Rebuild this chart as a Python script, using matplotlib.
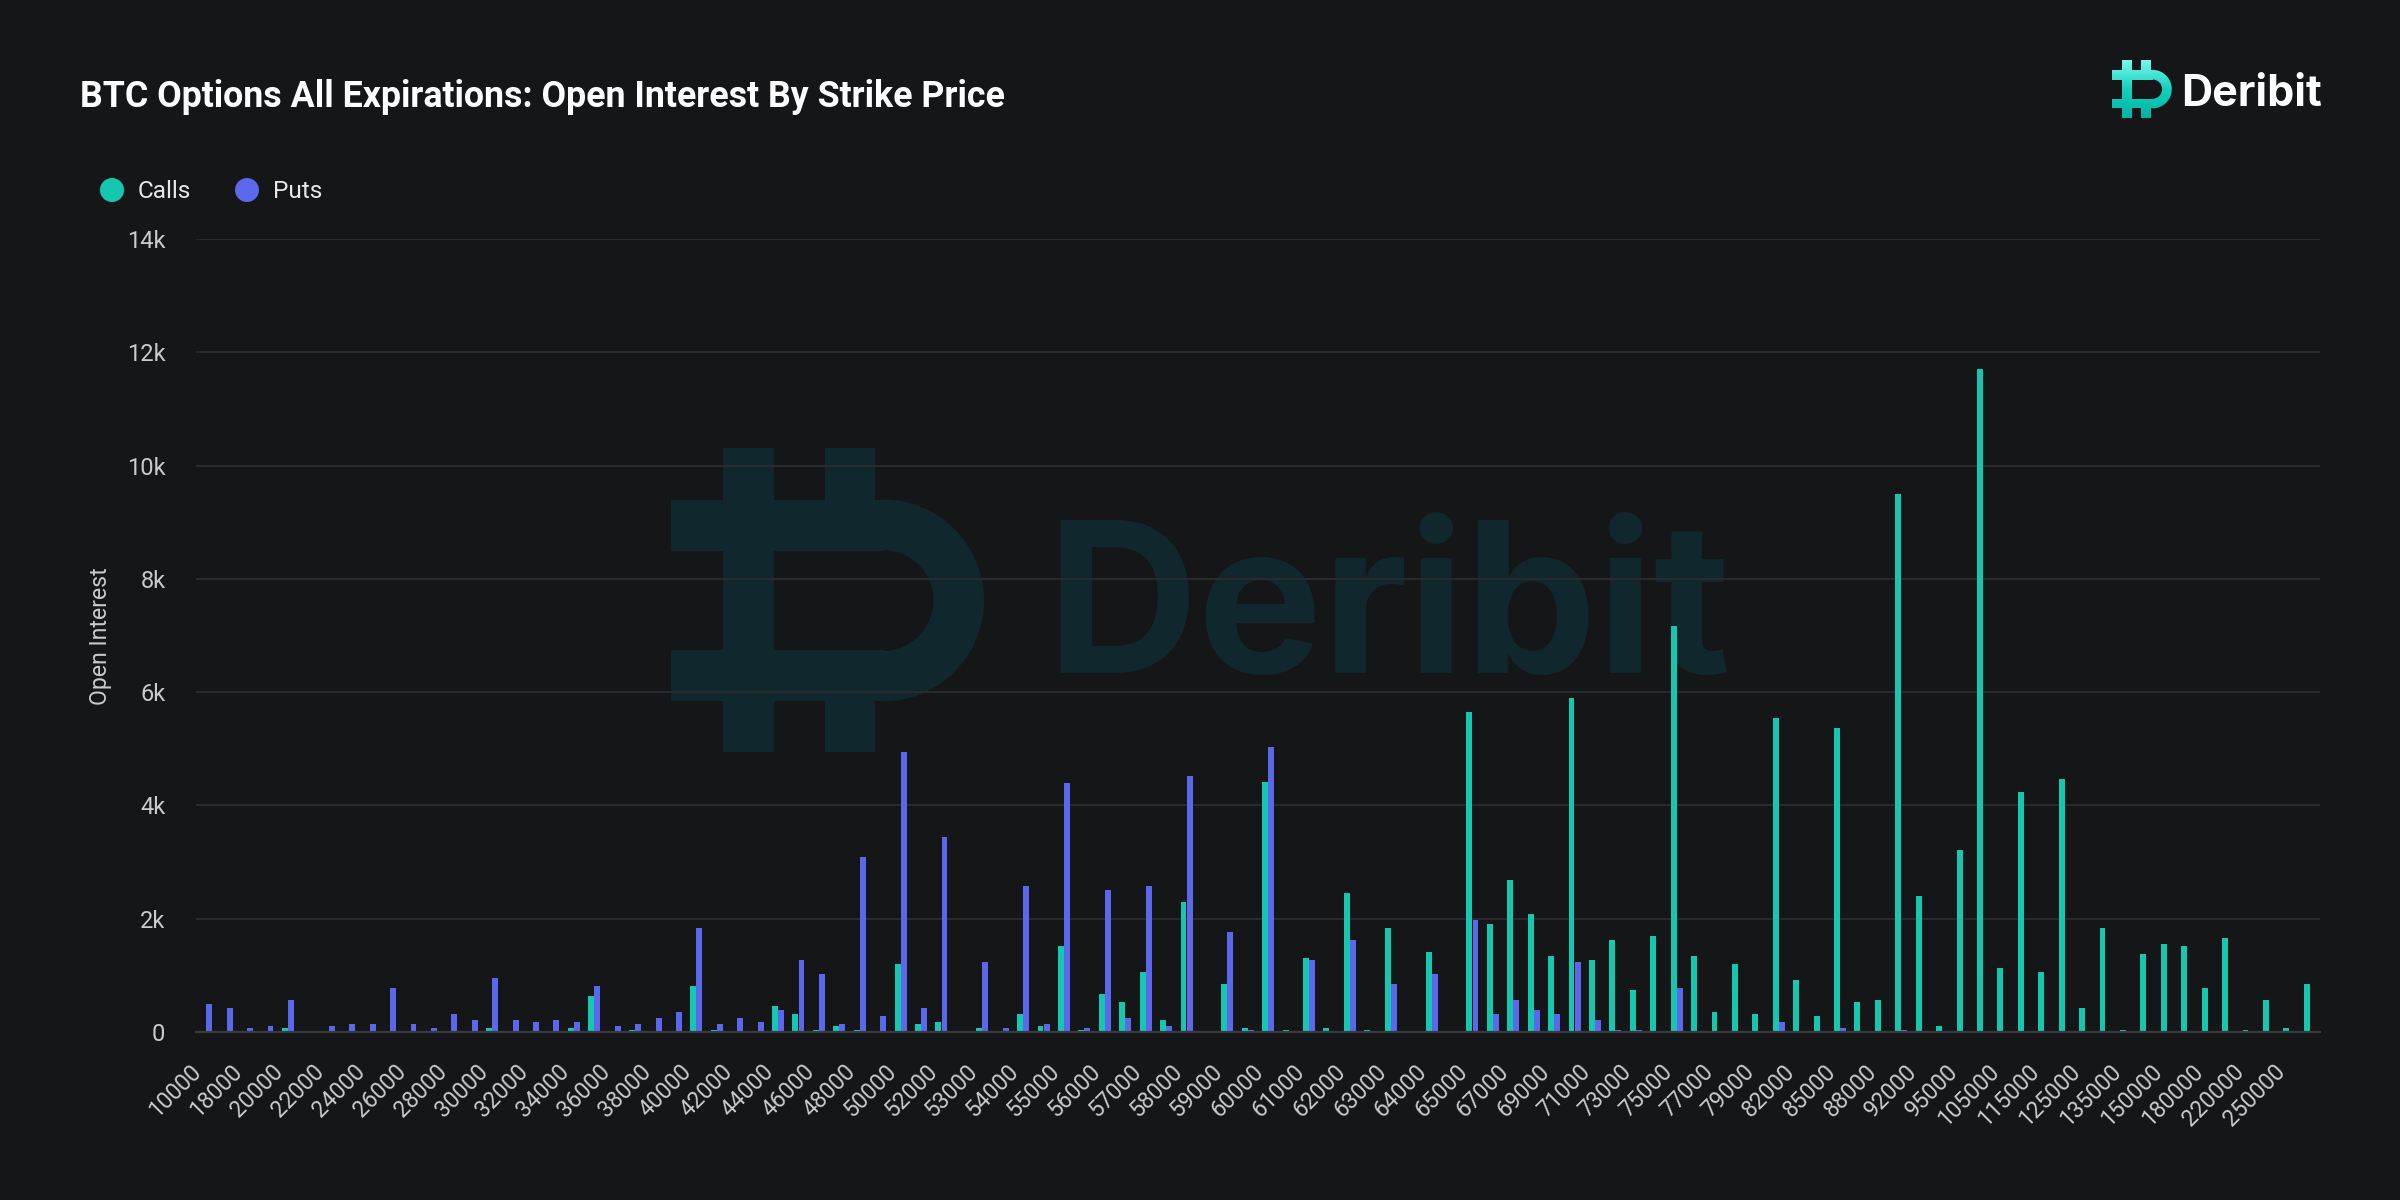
import numpy as np
import matplotlib
matplotlib.use("Agg")
import matplotlib.pyplot as plt
from matplotlib.patches import Rectangle, Wedge, Circle
from matplotlib.colors import LinearSegmentedColormap

# strike prices (categories)
strikes = [10000, 15000, 18000, 19000, 20000, 21000, 22000, 23000, 24000, 25000,
           26000, 27000, 28000, 29000, 30000, 31000, 32000, 33000, 34000, 35000,
           36000, 37000, 38000, 39000, 40000, 41000, 42000, 43000, 44000, 45000,
           46000, 47000, 48000, 49000, 50000, 51000, 52000, 52500, 53000, 53500,
           54000, 54500, 55000, 55500, 56000, 56500, 57000, 57500, 58000, 58500,
           59000, 59500, 60000, 60500, 61000, 61500, 62000, 62500, 63000, 63500,
           64000, 64500, 65000, 66000, 67000, 68000, 69000, 70000, 71000, 72000,
           73000, 74000, 75000, 76000, 77000, 78000, 79000, 80000, 82000, 84000,
           85000, 86000, 88000, 90000, 92000, 94000, 95000, 100000, 105000, 110000,
           115000, 120000, 125000, 130000, 135000, 140000, 150000, 160000, 180000, 200000,
           220000, 240000, 250000, 300000]

calls = [0, 0, 0, 0, 75, 0, 0, 0, 0, 0,
         0, 0, 0, 0, 75, 0, 0, 0, 75, 640,
         0, 40, 0, 0, 810, 40, 0, 0, 460, 320,
         40, 110, 40, 0, 1200, 145, 180, 0, 75, 0,
         320, 110, 1515, 40, 670, 530, 1060, 215, 2290, 0,
         850, 75, 4410, 40, 1300, 75, 2460, 40, 1830, 0,
         1410, 0, 5650, 1910, 2680, 2085, 1340, 5900, 1270, 1625,
         735, 1695, 7170, 1340, 350, 1195, 315, 5550, 910, 275,
         5370, 530, 560, 9500, 2400, 100, 3210, 11700, 1130, 4240,
         1060, 4470, 430, 1830, 40, 1375, 1550, 1515, 780, 1655,
         40, 570, 75, 850]

puts = [500, 430, 75, 110, 570, 0, 110, 145, 145, 780,
        145, 75, 320, 215, 950, 215, 180, 215, 180, 810,
        110, 145, 250, 355, 1830, 145, 250, 180, 390, 1270,
        1020, 145, 3090, 285, 4950, 430, 3440, 0, 1235, 75,
        2570, 145, 4390, 75, 2500, 250, 2570, 110, 4520, 0,
        1760, 40, 5030, 0, 1270, 0, 1620, 0, 850, 0,
        1020, 0, 1980, 315, 560, 385, 315, 1235, 205, 30,
        30, 0, 775, 0, 0, 0, 0, 175, 0, 0,
        70, 0, 0, 30, 0, 0, 0, 0, 0, 0,
        0, 0, 0, 0, 0, 0, 0, 0, 0, 0,
        0, 0, 0, 0]

y_ticks = [0, 2000, 4000, 6000, 8000, 10000, 12000, 14000]
y_labels = ["0", "2k", "4k", "6k", "8k", "10k", "12k", "14k"]

BG = "#151618"
GRID = "#2a2b2e"
CALL = "#14c8b0"
PUT = "#5b68ec"
WM = "#10272e"
TXT = "#c9cacc"

W, H = 2400, 1200
fig = plt.figure(figsize=(12, 6), dpi=200, facecolor=BG)

# pixel-space layer for logos / legend
bg = fig.add_axes([0, 0, 1, 1], zorder=0)
bg.set_facecolor(BG)


def logo_parts(x0, y0, s):
    rects = [(52, 0, 51, 53), (154, 0, 50, 53), (0, 52, 213, 51), (52, 101, 51, 104),
             (0, 202, 213, 51), (52, 252, 51, 52), (154, 252, 50, 52)]
    parts = [Rectangle((x0 + x * s, y0 + y * s), w * s, h * s) for x, y, w, h in rects]
    parts.append(Wedge((x0 + 212 * s, y0 + 152.5 * s), 101 * s, -90, 90, width=50.5 * s))
    return parts


# big watermark
for p in logo_parts(671, 448, 1.0):
    p.set_facecolor(WM)
    p.set_edgecolor("none")
    bg.add_patch(p)
bg.text(1046, 673, "Deribit", color=WM, fontsize=75.5, fontweight="bold",
        family="Inter", va="baseline", ha="left")

# small logo top right with gradient
s = 0.191
lx, ly = 2112, 60
cmap = LinearSegmentedColormap.from_list("lg", ["#79f8ec", "#14d2bf", "#02b3a2"])
grad = np.linspace(0, 1, 64).reshape(-1, 1)
for p in logo_parts(lx, ly, s):
    p.set_transform(bg.transData)
    im = bg.imshow(grad, cmap=cmap, aspect="auto", origin="upper",
                   extent=(lx, lx + 314 * s, ly + 304 * s, ly), zorder=3)
    im.set_clip_path(p)
bg.text(2181, 106, "Deribit", color="white", fontsize=15.5, fontweight="bold",
        family="Inter", va="baseline", ha="left")

# title
bg.text(80, 107, "BTC Options All Expirations: Open Interest By Strike Price",
        color="white", fontsize=12.9, fontweight="bold", family="Roboto",
        va="baseline", ha="left")

# legend
for cx, tx, col, name in [(112, 138, CALL, "Calls"), (247, 273, PUT, "Puts")]:
    bg.add_patch(Circle((cx, 190), 12, facecolor=col, edgecolor="none"))
    bg.text(tx, 191, name, color="#e8e8e8", fontsize=8.8, family="Roboto",
            va="center", ha="left")

bg.set_xlim(0, W)
bg.set_ylim(H, 0)
bg.axis("off")

# main chart
ax = fig.add_axes([196 / W, (H - 1032) / H, 2124 / W, (1032 - 239) / H], zorder=1)
ax.set_facecolor("none")
x = np.arange(len(strikes))
ax.bar(x - 0.148, calls, 0.29, color=CALL, linewidth=0, zorder=2)
ax.bar(x + 0.148, puts, 0.29, color=PUT, linewidth=0, zorder=2)

ax.set_xlim(-0.5, len(strikes) - 0.5)
ax.set_ylim(0, 14000)
ax.set_yticks(y_ticks)
ax.set_yticklabels(y_labels)
ax.yaxis.grid(True, color=GRID, linewidth=0.7)
ax.set_axisbelow(True)

ax.set_xticks(x[::2])
ax.set_xticklabels([str(v) for v in strikes[::2]], rotation=45, ha="right",
                   rotation_mode="default")

for sp in ["top", "right", "left"]:
    ax.spines[sp].set_visible(False)
ax.spines["bottom"].set_color("#3a3b3f")
ax.spines["bottom"].set_linewidth(0.8)

ax.tick_params(axis="y", length=0, pad=11, labelsize=8.5, labelcolor=TXT)
ax.tick_params(axis="x", length=0, pad=10, labelsize=8.2, labelcolor=TXT)
for lab in ax.get_xticklabels() + ax.get_yticklabels():
    lab.set_family("Roboto")

fig.text(101 / W, 1 - 636 / H, "Open Interest", rotation=90, color=TXT,
         fontsize=8.3, family="Roboto", va="center", ha="center")

fig.savefig("out.png", dpi=200, facecolor=BG)
